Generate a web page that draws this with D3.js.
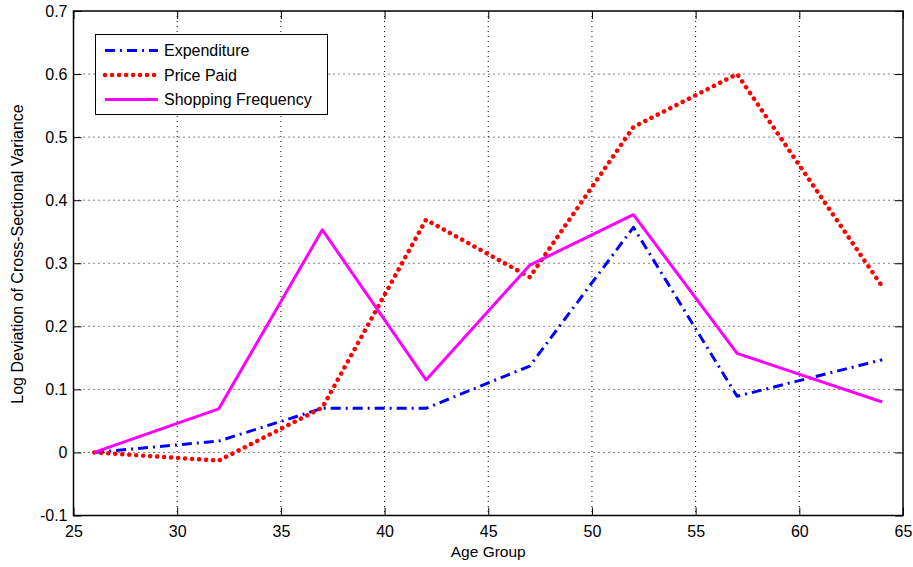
<!DOCTYPE html>
<html>
<head>
<meta charset="utf-8">
<script src="https://cdn.jsdelivr.net/npm/d3@7"></script>
<style>
  body { margin: 0; background: #fff; }
  text { font-family: "Liberation Sans", Arial, sans-serif; }
</style>
</head>
<body>
<svg id="chart" width="913" height="567"></svg>
<script>
  // data
  const ages = [26, 32, 37, 42, 47, 52, 57, 64];
  const expenditure = [0, 0.018, 0.07, 0.07, 0.137, 0.357, 0.089, 0.147];
  const pricePaid = [0, -0.013, 0.071, 0.369, 0.278, 0.516, 0.600, 0.263];
  const shoppingFreq = [0, 0.069, 0.353, 0.115, 0.297, 0.377, 0.157, 0.080];
  const seriesNames = ['Expenditure', 'Price Paid', 'Shopping Frequency'];
  const xTicks = [25, 30, 35, 40, 45, 50, 55, 60, 65];
  const yTicks = [-0.1, 0, 0.1, 0.2, 0.3, 0.4, 0.5, 0.6, 0.7];

  const series = [
    { name: seriesNames[0], values: expenditure, color: '#0000ff', dash: '10,5,2,5', cap: 'butt', width: 3 },
    { name: seriesNames[1], values: pricePaid, color: '#ff0000', dash: '0.1,6.9', cap: 'round', width: 4.5 },
    { name: seriesNames[2], values: shoppingFreq, color: '#ff00ff', dash: null, cap: 'butt', width: 3 }
  ];

  const svg = d3.select('#chart');
  const plotLeft = 73.5, plotRight = 903, plotTop = 11, plotBottom = 515.5;
  const fontSize = 16;

  const x = d3.scaleLinear().domain([25, 65]).range([plotLeft, plotRight]);
  const y = d3.scaleLinear().domain([-0.1, 0.7]).range([plotBottom, plotTop]);

  // grid
  const grid = svg.append('g');
  grid.selectAll('.gx').data(xTicks.slice(1, -1)).enter().append('line')
    .attr('x1', d => x(d)).attr('x2', d => x(d))
    .attr('y1', plotTop).attr('y2', plotBottom)
    .attr('stroke', '#000').attr('stroke-width', 1)
    .attr('stroke-dasharray', '1,4');
  grid.selectAll('.gy').data(yTicks.slice(1, -1)).enter().append('line')
    .attr('x1', plotLeft).attr('x2', plotRight)
    .attr('y1', d => y(d)).attr('y2', d => y(d))
    .attr('stroke', '#000').attr('stroke-width', 1)
    .attr('stroke-dasharray', '1,4');

  // box
  svg.append('rect')
    .attr('x', plotLeft).attr('y', plotTop)
    .attr('width', plotRight - plotLeft).attr('height', plotBottom - plotTop)
    .attr('fill', 'none').attr('stroke', '#000').attr('stroke-width', 1.5);

  // axes with inward ticks
  const xFmt = d => String(d);
  const yFmt = d => String(+d.toFixed(1));
  svg.append('g').attr('transform', `translate(0,${plotBottom})`)
    .call(d3.axisBottom(x).tickValues(xTicks).tickSize(-8).tickPadding(10).tickFormat(xFmt))
    .call(g => g.select('.domain').remove())
    .call(g => g.selectAll('text').attr('font-size', fontSize).attr('font-family', '"Liberation Sans", Arial, sans-serif'));
  svg.append('g').attr('transform', `translate(0,${plotTop})`)
    .call(d3.axisTop(x).tickValues(xTicks).tickSize(-8).tickFormat(''))
    .call(g => g.select('.domain').remove());
  svg.append('g').attr('transform', `translate(${plotLeft},0)`)
    .call(d3.axisLeft(y).tickValues(yTicks).tickSize(-8).tickPadding(6).tickFormat(yFmt))
    .call(g => g.select('.domain').remove())
    .call(g => g.selectAll('text').attr('font-size', fontSize).attr('font-family', '"Liberation Sans", Arial, sans-serif'));
  svg.append('g').attr('transform', `translate(${plotRight},0)`)
    .call(d3.axisRight(y).tickValues(yTicks).tickSize(-8).tickFormat(''))
    .call(g => g.select('.domain').remove());

  // lines
  const line = d3.line().x((d, i) => x(ages[i])).y(d => y(d));
  series.forEach(s => {
    svg.append('path')
      .datum(s.values)
      .attr('d', line)
      .attr('fill', 'none')
      .attr('stroke', s.color)
      .attr('stroke-width', s.width)
      .attr('stroke-linecap', s.cap)
      .attr('stroke-linejoin', 'round')
      .attr('stroke-dasharray', s.dash);
  });

  // legend
  const legend = svg.append('g');
  legend.append('rect')
    .attr('x', 95.5).attr('y', 34.5).attr('width', 232).attr('height', 80)
    .attr('fill', '#fff').attr('stroke', '#000').attr('stroke-width', 1);
  series.forEach((s, i) => {
    const ly = 50.5 + i * 24.5;
    legend.append('line')
      .attr('x1', 105).attr('x2', 158).attr('y1', ly).attr('y2', ly)
      .attr('stroke', s.color).attr('stroke-width', s.width)
      .attr('stroke-linecap', s.cap)
      .attr('stroke-dasharray', s.dash);
    legend.append('text')
      .attr('x', 164).attr('y', ly).attr('dy', '0.35em')
      .attr('font-size', fontSize)
      .text(s.name);
  });

  // axis labels
  svg.append('text')
    .attr('x', (plotLeft + plotRight) / 2).attr('y', 557)
    .attr('text-anchor', 'middle').attr('font-size', 15.5)
    .text('Age Group');
  svg.append('text')
    .attr('transform', 'translate(23,254) rotate(-90)')
    .attr('text-anchor', 'middle').attr('font-size', fontSize)
    .text('Log Deviation of Cross-Sectional Variance');
</script>
</body>
</html>
